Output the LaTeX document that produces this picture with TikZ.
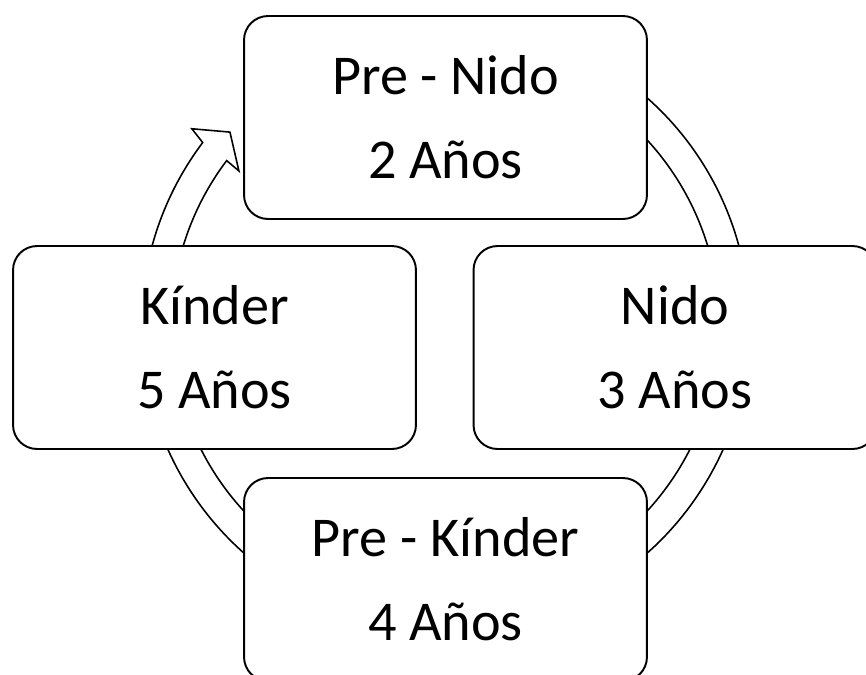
\documentclass[tikz,border=0pt]{standalone}
\usepackage{fontspec}
\setmainfont{Carlito}
\usetikzlibrary{positioning}
\tikzset{
  stage/.style={
    rectangle, rounded corners=0.48cm, minimum width=8.06cm, minimum height=4.06cm,
    align=center, draw=black, line width=1.1pt, fill=white,
    font=\fontsize{32}{48}\selectfont
  },
  cyclearrow/.style={
    draw=black, line width=0.9pt, fill=white, line join=miter
  }
}

\begin{document}
\begin{tikzpicture}[x=0.02cm, y=0.02cm]
\useasboundingbox (-445.5,-348.5) rectangle (420.5,325.5);
% ring arrow, behind the boxes
\draw[cyclearrow] (60:304) arc[start angle=60, end angle=-217, radius=304]
  -- (-217.8:321) -- (-221.9:289.6) -- (-216.8:258) -- (-217:274)
  arc[start angle=-217, end angle=60, radius=274] -- cycle;
\node[stage] (prenido) at (0,208) {Pre - Nido\\2 Años};
\node[stage] (nido) at (229.5,-22) {Nido\\3 Años};
\node[stage] (prekinder) at (0,-254) {Pre - Kínder\\4 Años};
\node[stage] (kinder) at (-231,-22) {Kínder\\5 Años};
\end{tikzpicture}
\end{document}
